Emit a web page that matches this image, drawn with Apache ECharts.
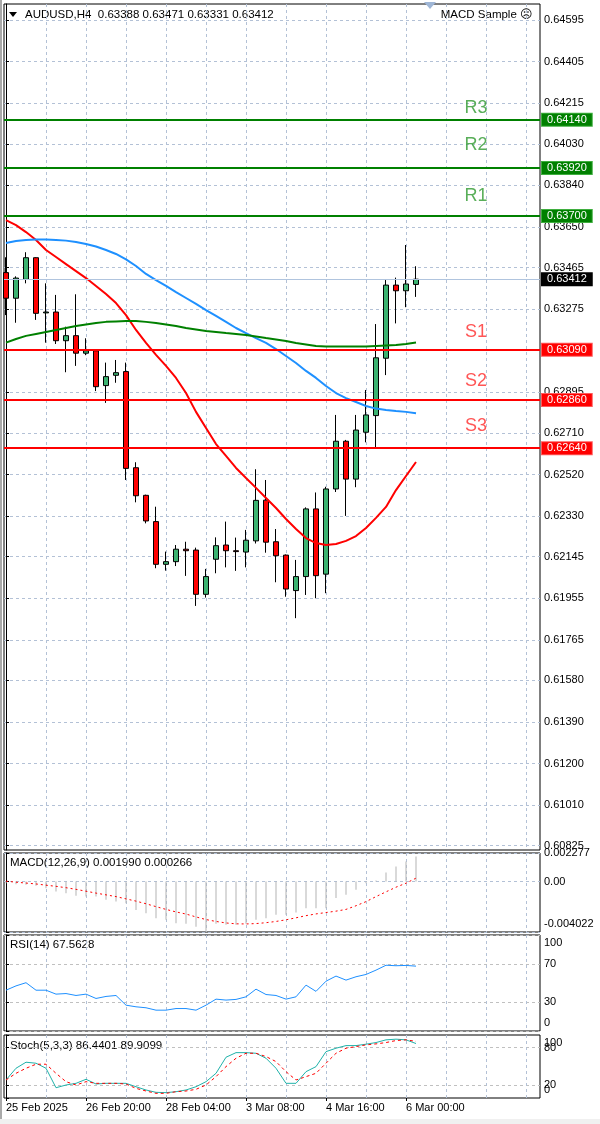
<!DOCTYPE html>
<html><head><meta charset="utf-8">
<script src="https://cdn.jsdelivr.net/npm/echarts@6/dist/echarts.min.js"></script>
<style>html,body{margin:0;padding:0;background:#fff}#c{width:600px;height:1124px}</style>
</head><body><div id="c"></div>
<script>
// ---------- DATA ----------
const barTimes = ['2025.02.25 12:00','2025.02.25 16:00','2025.02.25 20:00','2025.02.26 00:00','2025.02.26 04:00','2025.02.26 08:00','2025.02.26 12:00','2025.02.26 16:00','2025.02.26 20:00','2025.02.27 00:00','2025.02.27 04:00','2025.02.27 08:00','2025.02.27 12:00','2025.02.27 16:00','2025.02.27 20:00','2025.02.28 00:00','2025.02.28 04:00','2025.02.28 08:00','2025.02.28 12:00','2025.02.28 16:00','2025.02.28 20:00','2025.03.02 20:00','2025.03.03 00:00','2025.03.03 04:00','2025.03.03 08:00','2025.03.03 12:00','2025.03.03 16:00','2025.03.03 20:00','2025.03.04 00:00','2025.03.04 04:00','2025.03.04 08:00','2025.03.04 12:00','2025.03.04 16:00','2025.03.04 20:00','2025.03.05 00:00','2025.03.05 04:00','2025.03.05 08:00','2025.03.05 12:00','2025.03.05 16:00','2025.03.05 20:00','2025.03.06 00:00','2025.03.06 04:00'];
const openP  = [0.63442,0.63325,0.63411,0.63510,0.63258,0.63262,0.63131,0.63154,0.63074,0.63085,0.62926,0.62973,0.62990,0.62551,0.62425,0.62305,0.62110,0.62122,0.62179,0.62175,0.61973,0.62133,0.62198,0.62172,0.62166,0.62217,0.62403,0.62213,0.62152,0.61990,0.62054,0.62363,0.62065,0.62454,0.62672,0.62499,0.62713,0.62789,0.63051,0.63385,0.63359,0.63388];
const highP  = [0.63512,0.63425,0.63535,0.63512,0.63393,0.63340,0.63195,0.63343,0.63142,0.63088,0.63031,0.63043,0.63031,0.62576,0.62428,0.62373,0.62168,0.62198,0.62213,0.62186,0.62089,0.62233,0.62305,0.62232,0.62267,0.62544,0.62495,0.62271,0.62155,0.62130,0.62370,0.62438,0.62464,0.62792,0.62678,0.62792,0.62906,0.63207,0.63408,0.63419,0.63568,0.63471];
const lowP   = [0.63248,0.63213,0.63393,0.63226,0.63122,0.63116,0.62987,0.63016,0.63065,0.62901,0.62847,0.62939,0.62495,0.62393,0.62297,0.62092,0.62081,0.62102,0.62057,0.61920,0.61958,0.62069,0.62096,0.62080,0.62096,0.62205,0.62163,0.62028,0.61962,0.61864,0.61970,0.61955,0.61978,0.62440,0.62331,0.62462,0.62667,0.62644,0.62974,0.63210,0.63284,0.63331];
const closeP = [0.63325,0.63417,0.63510,0.63256,0.63262,0.63131,0.63154,0.63074,0.63085,0.62921,0.62967,0.62985,0.62548,0.62423,0.62308,0.62110,0.62122,0.62179,0.62172,0.61973,0.62054,0.62195,0.62172,0.62168,0.62220,0.62402,0.62211,0.62149,0.61997,0.62054,0.62363,0.62058,0.62454,0.62672,0.62499,0.62723,0.62792,0.63053,0.63385,0.63359,0.63390,0.63412];
const maRed   = [0.63682,0.63659,0.63627,0.63591,0.63545,0.63513,0.63481,0.63449,0.63417,0.63381,0.63344,0.63303,0.63248,0.63180,0.63121,0.63066,0.63016,0.62961,0.62892,0.62806,0.62732,0.62659,0.62605,0.62550,0.62504,0.62459,0.62413,0.62367,0.62317,0.62271,0.62230,0.62207,0.62198,0.62203,0.62217,0.62239,0.62276,0.62322,0.62372,0.62449,0.62513,0.62577];
const maBlue  = [0.63577,0.63586,0.63591,0.63593,0.63593,0.63591,0.63588,0.63582,0.63573,0.63561,0.63545,0.63527,0.63502,0.63472,0.63436,0.63408,0.63381,0.63353,0.63326,0.63299,0.63271,0.63244,0.63217,0.63189,0.63166,0.63143,0.63121,0.63093,0.63061,0.63029,0.62993,0.62961,0.62924,0.62892,0.62869,0.62851,0.62833,0.62821,0.62815,0.62810,0.62806,0.62800];
const maGreen = [0.63122,0.63139,0.63153,0.63162,0.63171,0.63180,0.63189,0.63198,0.63205,0.63212,0.63217,0.63219,0.63221,0.63221,0.63217,0.63212,0.63205,0.63198,0.63189,0.63182,0.63175,0.63171,0.63166,0.63162,0.63157,0.63150,0.63143,0.63137,0.63130,0.63121,0.63114,0.63107,0.63104,0.63104,0.63104,0.63104,0.63104,0.63107,0.63109,0.63111,0.63116,0.63123];
const levelNames = ['R3','R2','R1','S1','S2','S3'];
const levelPrices = [0.64140,0.63920,0.63700,0.63090,0.62860,0.62640];
const levelTextPrices = [0.64194,0.64025,0.63792,0.63172,0.62948,0.62742];
const levelTextBar = 47;
const lastPrice = 0.63412;
const priceTicks = [0.64595,0.64405,0.64215,0.64030,0.63840,0.63650,0.63465,0.63275,0.63090,0.62895,0.62710,0.62520,0.62330,0.62145,0.61955,0.61765,0.61580,0.61390,0.61200,0.61010,0.60825];
const priceMin = 0.608054, priceMax = 0.646685;
const macdMain = [-0.00013,-0.00021,-0.00026,-0.00034,-0.00053,-0.00080,-0.00093,-0.00114,-0.00120,-0.00120,-0.00146,-0.00159,-0.00172,-0.00226,-0.00252,-0.00292,-0.00305,-0.00332,-0.00337,-0.00360,-0.00400,-0.00337,-0.00345,-0.00345,-0.00337,-0.00305,-0.00292,-0.00265,-0.00265,-0.00247,-0.00212,-0.00212,-0.00212,-0.00132,-0.00106,-0.00066,-0.00013,0.00008,0.00072,0.00120,0.00159,0.00199];
const macdSignal = [0.00003,-0.00005,-0.00012,-0.00019,-0.00029,-0.00038,-0.00049,-0.00062,-0.00077,-0.00092,-0.00106,-0.00120,-0.00138,-0.00156,-0.00177,-0.00200,-0.00222,-0.00242,-0.00259,-0.00282,-0.00303,-0.00318,-0.00330,-0.00337,-0.00338,-0.00335,-0.00328,-0.00318,-0.00305,-0.00289,-0.00272,-0.00258,-0.00247,-0.00236,-0.00222,-0.00193,-0.00160,-0.00120,-0.00082,-0.00045,-0.00013,0.00027];
const macdTicks = [0.002277, 0, -0.004022];
const macdTickText = ['0.002277','0.00','-0.004022'];
const rsi = [42.5,47.0,50.3,42.5,42.5,38.4,39.0,37.0,38.4,33.9,36.0,37.0,26.9,25.2,24.2,21.7,21.7,23.4,23.4,21.7,26.9,33.2,32.2,32.9,35.6,43.6,38.0,37.0,33.2,35.6,47.8,41.3,51.9,57.2,53.0,56.5,58.9,63.4,68.5,68.0,68.3,67.56];
const rsiTicks = [100,70,30,0];
const stochK = [28.6,47.2,56.8,55.2,47.2,16.3,20.6,23.3,29.7,22.2,23.3,23.3,23.3,17.9,12.7,9.0,8.5,10.0,12.7,17.9,25.9,39.2,64.7,72.0,72.0,71.0,63.1,47.2,23.3,23.3,41.8,49.8,73.6,79.0,83.2,83.2,85.4,88.0,92.3,93.4,92.3,86.44];
const stochD = [28.6,39.2,47.2,53.6,53.6,39.2,25.9,20.6,25.9,23.3,23.3,23.3,22.2,15.3,11.1,7.4,7.4,10.0,11.1,13.8,20.6,33.9,49.8,63.1,71.0,71.0,65.8,57.8,41.8,28.6,33.9,39.2,55.2,71.0,79.0,81.6,84.3,85.9,88.0,91.2,92.3,89.91];
const stochLevelTicks = [80,20];
const stochEdgeTicks = [100,0];
const xLabelIdx = [0,8,16,24,32,40];
const xLabelText = ['25 Feb 2025','26 Feb 20:00','28 Feb 04:00','3 Mar 08:00','4 Mar 16:00','6 Mar 00:00'];
const vGridIdx = [4,8,12,16,20,24,28,32,36,40,44,48,52];

// ---------- STYLE ----------
const FONT = '"Liberation Sans", Arial, sans-serif';
const GRIDC = '#b3c1d6';
const LEVELC = '#c0c0c0';
const XMIN = -0.2, XMAX = 53.4;
const GREEN = '#008000', RED = '#ff0000';

const chart = echarts.init(document.getElementById('c'), null, {renderer: 'canvas'});

const grids = [
  {left: 4, top: 4, width: 536, height: 846},
  {left: 4, top: 853, width: 536, height: 79},
  {left: 4, top: 935, width: 536, height: 96},
  {left: 4, top: 1035, width: 536, height: 63}
].map(g => Object.assign(g, {show: true, borderColor: '#000', borderWidth: 1, backgroundColor: 'transparent', outerBoundsMode: 'none', containLabel: false}));

function xAx(i) {
  return {gridIndex: i, type: 'value', min: XMIN, max: XMAX,
    axisLine: {show: false}, axisTick: {show: false, customValues: vGridIdx},
    axisLabel: {show: false},
    splitLine: {show: true, lineStyle: {color: GRIDC, type: [3, 3], width: 1}}};
}
const xAxes = [xAx(0), xAx(1), xAx(2), xAx(3), {
  gridIndex: 3, type: 'value', min: XMIN, max: XMAX, position: 'bottom',
  axisLine: {show: false},
  axisTick: {show: true, length: 3, customValues: xLabelIdx, lineStyle: {color: '#000'}},
  axisLabel: {show: true, customValues: xLabelIdx, align: 'left', margin: 4, color: '#000', fontSize: 11, fontFamily: FONT,
    hideOverlap: false, formatter: v => xLabelText[xLabelIdx.indexOf(Math.round(v))] || ''},
  splitLine: {show: false}
}];

function shiftRich(label, dy) {
  if (!dy) return '{n|' + label + '}';
  return dy > 0 ? '{d|' + label + '}' : '{u|' + label + '}';
}
const richBase = {
  n: {fontSize: 11, fontFamily: FONT, color: '#000'},
  d: {fontSize: 11, fontFamily: FONT, color: '#000', padding: [16, 0, 0, 0]},
  u: {fontSize: 11, fontFamily: FONT, color: '#000', padding: [0, 0, 16, 0]}
};

function yAx(i, min, max, ticks, fmt, splitColor, showLine, showSplit) {
  return {gridIndex: i, type: 'value', position: 'right', min: min, max: max, scale: true,
    axisLine: {show: showLine !== false, lineStyle: {color: '#000'}},
    axisTick: {show: true, length: 3, customValues: ticks, lineStyle: {color: '#000'}},
    axisLabel: {show: true, customValues: ticks, margin: 4, color: '#000', fontSize: 11, fontFamily: FONT,
      hideOverlap: false, showMinLabel: true, showMaxLabel: true, formatter: fmt, rich: richBase},
    splitLine: {show: showSplit !== false, lineStyle: {color: splitColor, type: [3, 3], width: 1}}};
}
const edgeFmt = v => shiftRich(String(v), v === 100 ? 1 : (v === 0 ? -1 : 0));
const yAxes = [
  yAx(0, priceMin, priceMax, priceTicks, v => v.toFixed(5), GRIDC),
  yAx(1, -0.004022, 0.002277, macdTicks, v => {
    const i = macdTicks.findIndex(t => Math.abs(t - v) < 1e-9);
    return shiftRich(macdTickText[i], i === 2 ? -1 : 0);
  }, GRIDC),
  yAx(2, 0, 100, rsiTicks, edgeFmt, LEVELC),
  yAx(3, 0, 100, stochLevelTicks, edgeFmt, LEVELC),
  yAx(3, 0, 100, stochEdgeTicks, edgeFmt, LEVELC, false, false)
];

const xy = arr => arr.map((v, i) => [i, v]);
const candleData = openP.map((o, i) => [i, o, closeP[i], lowP[i], highP[i]]);

const tagStyle = (bg, border) => ({show: true, position: 'end', distance: 2, formatter: p => Number(p.value).toFixed(5),
  color: '#fff', backgroundColor: bg, borderColor: border, borderWidth: 1, padding: [1, 5, 0, 5], fontSize: 11, fontFamily: FONT, lineHeight: 11});

const levelLines = levelPrices.map((p, i) => ({
  yAxis: p,
  lineStyle: {color: i < 3 ? GREEN : RED, width: 2, type: 'solid'},
  label: i < 3 ? tagStyle('#008000', '#3fae3f') : tagStyle('#ff0000', '#ff5a5a')
}));
levelLines.push({yAxis: lastPrice, lineStyle: {color: '#b0c4de', width: 1, type: 'solid'}, label: tagStyle('#000', '#000')});

const levelTextData = levelNames.map((n, i) => ({
  name: n, value: [levelTextBar, levelTextPrices[i]],
  label: {color: i < 3 ? '#2f9a2f' : '#ff2a2a'}
}));

const option = {
  animation: false,
  backgroundColor: '#fff',
  grid: grids,
  xAxis: xAxes,
  yAxis: yAxes,
  series: [
    {type: 'candlestick', xAxisIndex: 0, yAxisIndex: 0, data: candleData, barWidth: 6, z: 3,
      itemStyle: {color: '#3cb371', color0: '#ff0000', borderColor: '#000', borderColor0: '#000', borderWidth: 1}},
    {type: 'line', xAxisIndex: 0, yAxisIndex: 0, data: xy(maRed), symbol: 'none', z: 4, lineStyle: {color: '#ff0000', width: 2}},
    {type: 'line', xAxisIndex: 0, yAxisIndex: 0, data: xy(maBlue), symbol: 'none', z: 4, lineStyle: {color: '#1e90ff', width: 2}},
    {type: 'line', xAxisIndex: 0, yAxisIndex: 0, data: xy(maGreen), symbol: 'none', z: 4, lineStyle: {color: '#008000', width: 2}},
    {type: 'line', xAxisIndex: 0, yAxisIndex: 0, data: [], z: 5,
      markLine: {silent: true, symbol: ['none', 'none'], precision: 5, animation: false, data: levelLines}},
    {type: 'scatter', xAxisIndex: 0, yAxisIndex: 0, z: 6, symbolSize: 1, itemStyle: {color: 'rgba(0,0,0,0)'},
      data: levelTextData,
      label: {show: true, position: 'inside', formatter: p => p.name, fontSize: 18, fontFamily: FONT}},
    {type: 'bar', xAxisIndex: 1, yAxisIndex: 1, data: xy(macdMain), barWidth: 1, itemStyle: {color: '#b4b4b4'}},
    {type: 'line', xAxisIndex: 1, yAxisIndex: 1, data: xy(macdSignal), symbol: 'none', lineStyle: {color: '#ff0000', width: 1, type: [2, 3]}},
    {type: 'line', xAxisIndex: 2, yAxisIndex: 2, data: xy(rsi), symbol: 'none', lineStyle: {color: '#1e90ff', width: 1}},
    {type: 'line', xAxisIndex: 3, yAxisIndex: 3, data: xy(stochK), symbol: 'none', lineStyle: {color: '#20b2aa', width: 1}},
    {type: 'line', xAxisIndex: 3, yAxisIndex: 3, data: xy(stochD), symbol: 'none', lineStyle: {color: '#ff0000', width: 1, type: [3, 3]}}
  ],
  graphic: [
    {type: 'polygon', shape: {points: [[424, 2], [436, 2], [430, 9]]}, style: {fill: '#9fb6d6'}, silent: true},
    {type: 'polygon', shape: {points: [[9, 12], [17, 12], [13, 17]]}, style: {fill: '#000'}, silent: true},
    {type: 'text', left: 25, top: 9, style: {text: 'AUDUSD,H4  0.63388 0.63471 0.63331 0.63412', fontSize: 11.5, fill: '#000', fontFamily: FONT}},
    {type: 'text', right: 67, top: 9, style: {text: 'MACD Sample \u2639', fontSize: 11.5, fill: '#000', fontFamily: FONT}},
    {type: 'text', left: 10, top: 857, style: {text: 'MACD(12,26,9) 0.001990 0.000266', fontSize: 11.5, fill: '#000', fontFamily: FONT}},
    {type: 'text', left: 10, top: 939, style: {text: 'RSI(14) 67.5628', fontSize: 11.5, fill: '#000', fontFamily: FONT}},
    {type: 'text', left: 10, top: 1040, style: {text: 'Stoch(5,3,3) 86.4401 89.9099', fontSize: 11.5, fill: '#000', fontFamily: FONT}},
    {type: 'line', shape: {x1: 1, y1: 0, x2: 1, y2: 1124}, style: {stroke: '#555', lineWidth: 1}, silent: true},
    {type: 'rect', shape: {x: 0, y: 1119, width: 600, height: 5}, style: {fill: '#f0f0f0'}, silent: true}
  ]
};
chart.setOption(option);
</script>
</body></html>
